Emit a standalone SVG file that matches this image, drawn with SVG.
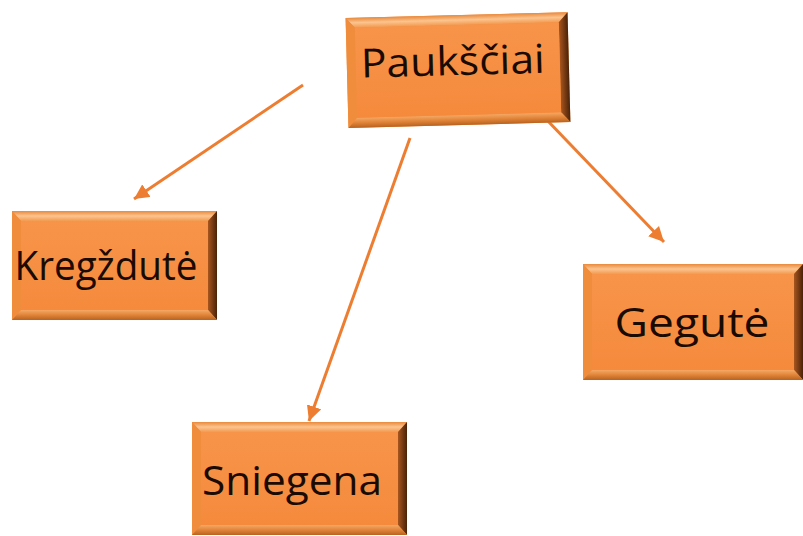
<svg xmlns="http://www.w3.org/2000/svg" width="803" height="536" viewBox="0 0 803 536">
<defs>
<linearGradient id="face" x1="0" y1="0" x2="0" y2="1">
<stop offset="0" stop-color="#F7944A"/><stop offset="1" stop-color="#F58A3C"/>
</linearGradient>
<linearGradient id="rgt" x1="0" y1="0" x2="1" y2="0">
<stop offset="0" stop-color="#A8551E"/><stop offset="1" stop-color="#4A2208"/>
</linearGradient>
<linearGradient id="top" x1="0" y1="0" x2="0" y2="1">
<stop offset="0" stop-color="#E8893C"/><stop offset="0.5" stop-color="#FCC48E"/><stop offset="1" stop-color="#F39A50"/>
</linearGradient>
<linearGradient id="bot" x1="0" y1="0" x2="0" y2="1">
<stop offset="0" stop-color="#F5A865"/><stop offset="0.5" stop-color="#E08438"/><stop offset="1" stop-color="#B9621F"/>
</linearGradient>
<marker id="ah" viewBox="0 0 10 10" refX="10" refY="5" markerWidth="5" markerHeight="5" orient="auto" markerUnits="strokeWidth">
<path d="M0,0 L10,5 L0,10 z" fill="#ED7D31"/>
</marker>
</defs>
<style>
.lbl{font-family:"Open Sans","Noto Sans",sans-serif;font-size:40px;fill:#1a0a00;}
.lft{fill:#F08D3D;}
.con{stroke:#ED7D31;stroke-width:3;fill:none;marker-end:url(#ah);}
</style>
<g id="connectors">
<line class="con" x1="303" y1="85" x2="134" y2="199"/>
<line class="con" x1="410" y1="138" x2="309" y2="421"/>
<line class="con" x1="545" y1="118" x2="664" y2="242"/>
</g>
<g id="n-pauksciai" transform="rotate(-1.5 459 70)">
<rect x="347" y="15" width="222" height="110" fill="#F08D3D"/>
<polygon points="347,15 569,15 560,25 356,25" fill="url(#top)"/>
<polygon points="347,15 356,25 356,115 347,125" class="lft"/>
<polygon points="569,15 569,125 560,115 560,25" fill="url(#rgt)"/>
<polygon points="347,125 356,115 560,115 569,125" fill="url(#bot)"/>
<rect x="356" y="25" width="204" height="90" fill="url(#face)"/>
<text class="lbl" x="453" y="75" text-anchor="middle" textLength="184" lengthAdjust="spacingAndGlyphs">Paukščiai</text>
</g>
<g id="n-kregzdute">
<rect x="12" y="211" width="205" height="109" fill="#F08D3D"/>
<polygon points="12,211 217,211 208,221 21,221" fill="url(#top)"/>
<polygon points="12,211 21,221 21,310 12,320" class="lft"/>
<polygon points="217,211 217,320 208,310 208,221" fill="url(#rgt)"/>
<polygon points="12,320 21,310 208,310 217,320" fill="url(#bot)"/>
<rect x="21" y="221" width="187" height="89" fill="url(#face)"/>
<text class="lbl" x="106" y="280" text-anchor="middle" textLength="183" lengthAdjust="spacingAndGlyphs">Kregždutė</text>
</g>
<g id="n-gegute">
<rect x="583" y="264" width="220" height="116" fill="#F08D3D"/>
<polygon points="583,264 803,264 794,274 592,274" fill="url(#top)"/>
<polygon points="583,264 592,274 592,370 583,380" class="lft"/>
<polygon points="803,264 803,380 794,370 794,274" fill="url(#rgt)"/>
<polygon points="583,380 592,370 794,370 803,380" fill="url(#bot)"/>
<rect x="592" y="274" width="202" height="96" fill="url(#face)"/>
<text class="lbl" x="692" y="337" text-anchor="middle" textLength="155" lengthAdjust="spacingAndGlyphs">Gegutė</text>
</g>
<g id="n-sniegena">
<rect x="192" y="422" width="215" height="113" fill="#F08D3D"/>
<polygon points="192,422 407,422 398,432 201,432" fill="url(#top)"/>
<polygon points="192,422 201,432 201,525 192,535" class="lft"/>
<polygon points="407,422 407,535 398,525 398,432" fill="url(#rgt)"/>
<polygon points="192,535 201,525 398,525 407,535" fill="url(#bot)"/>
<rect x="201" y="432" width="197" height="93" fill="url(#face)"/>
<text class="lbl" x="292" y="495" text-anchor="middle" textLength="180" lengthAdjust="spacingAndGlyphs">Sniegena</text>
</g>
</svg>
